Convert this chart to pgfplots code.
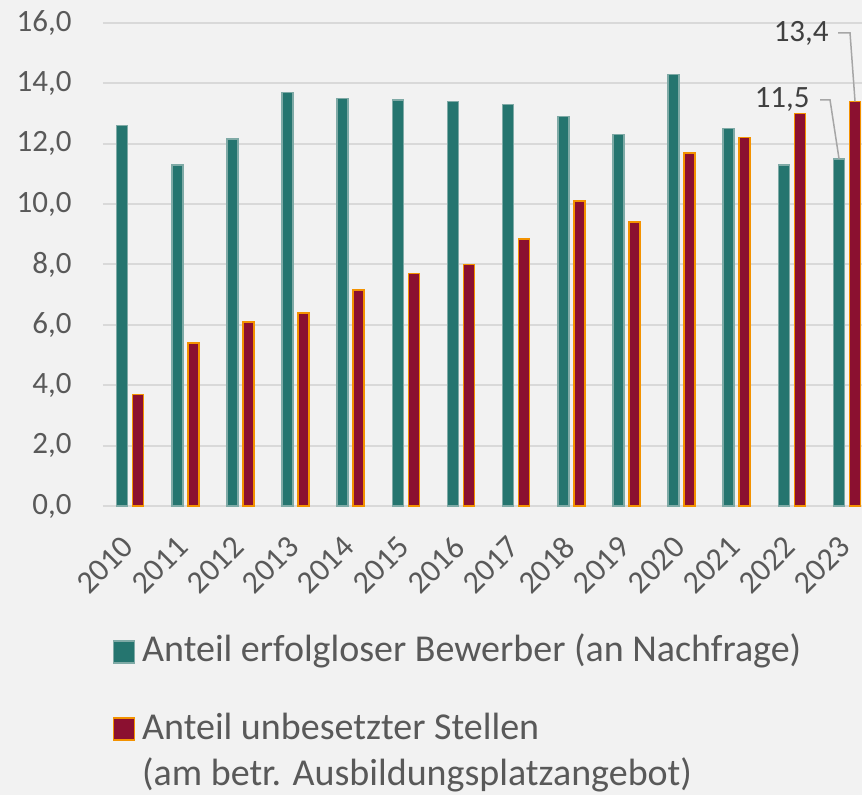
\documentclass[border=0pt]{standalone}
\usepackage{pgfplots}
\pgfplotsset{compat=1.18}
\usepackage{fontspec}
\setmainfont{Carlito}
\definecolor{bg}{HTML}{F2F2F2}
\definecolor{teal1}{HTML}{25756F}
\definecolor{teal2}{HTML}{7FAAA6}
\definecolor{red1}{HTML}{8B1030}
\definecolor{orange1}{HTML}{F39200}
\definecolor{gridc}{HTML}{D9D9D9}
\definecolor{txt}{HTML}{595959}
\definecolor{lbl}{HTML}{404040}
\definecolor{lead}{HTML}{A6A6A6}
\pgfplotstableread{
x a b
0 12.6 3.7
1 11.3 5.4
2 12.15 6.1
3 13.7 6.4
4 13.5 7.15
5 13.45 7.7
6 13.4 8.0
7 13.3 8.85
8 12.9 10.1
9 12.3 9.4
10 14.3 11.7
11 12.5 12.2
12 11.3 13.0
13 11.5 13.4
}\datatab
\begin{document}
\begin{tikzpicture}
\fill[bg] (-51.5pt,-144.5pt) rectangle (379.5pt,253pt);
\begin{axis}[
 at={(0,0)}, anchor=south west,
 width=386pt, height=241.5pt, scale only axis,
 xmin=-0.5, xmax=13.5, ymin=0, ymax=16,
 ytick={0,2,4,6,8,10,12,14,16},
 xtick={0,...,13},
 xticklabels={2010,2011,2012,2013,2014,2015,2016,2017,2018,2019,2020,2021,2022,2023},
 axis line style={draw=none},
 major tick length=0pt,
 ymajorgrids, grid style={gridc, line width=1pt},
 clip=false,
 /pgf/number format/assume math mode=true,
 ticklabel style={font=\fontsize{15.5}{19}\selectfont, text=txt},
 yticklabel style={anchor=east, inner sep=0pt, xshift=-15.5pt,
   /pgf/number format/fixed, /pgf/number format/fixed zerofill,
   /pgf/number format/precision=1, /pgf/number format/use comma},
 xticklabel style={font=\fontsize{16}{19}\selectfont, xshift=-5pt, yshift=-14pt, rotate=45, anchor=north east, inner sep=0pt},
 legend cell align=left,
 legend style={at={(0.012,-0.2644)}, anchor=north west, draw=none, fill=none,
   inner sep=0pt, font=\fontsize{19}{23}\selectfont, text=txt,
   nodes={anchor=base west, inner sep=0pt}, row sep=21pt, column sep=3.5pt},
]
\addplot[ybar, bar width=5.5pt, bar shift=-4.2pt, fill=teal1, draw=teal2, line width=0.75pt,
  legend image code/.code={\draw[fill=teal1, draw=teal2, line width=0.75pt] (0pt,-0.5pt) rectangle (10.5pt,10.5pt);}]
  table[x=x, y=a] {\datatab};
\addlegendentry{Anteil erfolgloser Bewerber (an Nachfrage)}
\addplot[ybar, bar width=5.5pt, bar shift=3.8pt, fill=red1, draw=orange1, line width=0.75pt,
  legend image code/.code={\draw[fill=red1, draw=orange1, line width=0.75pt] (0pt,-0.5pt) rectangle (10.5pt,10.5pt);}]
  table[x=x, y=b] {\datatab};
\addlegendentry{\begin{tabular}[t]{@{}l@{}}Anteil unbesetzter Stellen\\(am betr. Ausbildungsplatzangebot)\end{tabular}}
\draw[lead, line width=0.75pt] ([xshift=3.8pt]axis cs:13,13.4) -- ([xshift=1.3pt]axis cs:13,15.67) -- ([xshift=-4.7pt]axis cs:13,15.67);
\node[anchor=east, inner sep=0pt, text=lbl, font=\fontsize{15.5}{19}\selectfont] at ([xshift=-9.2pt]axis cs:13,15.67) {13,4};
\draw[lead, line width=0.75pt] ([xshift=-4.2pt]axis cs:13,11.5) -- ([xshift=-8.7pt]axis cs:13,13.45) -- ([xshift=-13.7pt]axis cs:13,13.45);
\node[anchor=east, inner sep=0pt, text=lbl, font=\fontsize{15.5}{19}\selectfont] at ([xshift=-18.7pt]axis cs:13,13.45) {11,5};
\end{axis}
\pgfresetboundingbox
\path[use as bounding box] (-51.5pt,-144.5pt) rectangle (379.5pt,253pt);
\end{tikzpicture}
\end{document}
